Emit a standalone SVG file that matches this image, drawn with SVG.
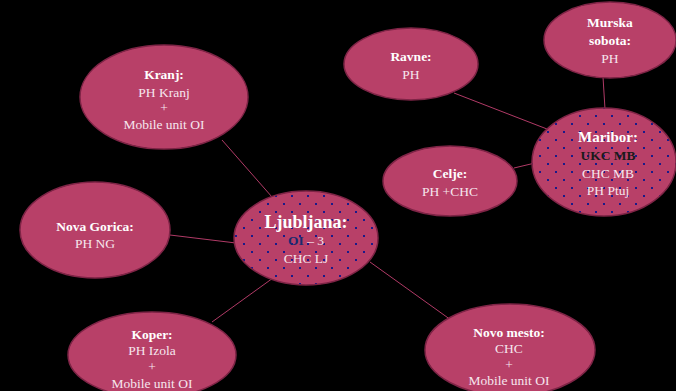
<svg xmlns="http://www.w3.org/2000/svg" width="676" height="391" viewBox="0 0 676 391">
<defs>
<pattern id="dots" x="0" y="0" width="16" height="16" patternUnits="userSpaceOnUse">
<rect width="16" height="16" fill="#b84068"/>
<rect x="3" y="3" width="2" height="2" fill="#1a1a8a"/>
<rect x="11" y="11" width="2" height="2" fill="#1a1a8a"/>
</pattern>
<style>
.n{fill:#b84068;stroke:#7e2446;stroke-width:1.5}
.d{fill:url(#dots);stroke:#7e2446;stroke-width:1.5}
.c line{stroke:#b03a66;stroke-width:1}
text{font-family:"Liberation Serif","DejaVu Serif",serif;font-size:13.5px;fill:#f6e6ee;text-anchor:middle}
.b{font-weight:bold;fill:#ffffff}
.k{font-weight:bold;fill:#1a1a1a}
</style>
</defs>
<rect width="676" height="391" fill="#000000"/>
<g class="c" id="connectors">
<line x1="222" y1="140" x2="272" y2="197"/>
<line x1="170" y1="235" x2="236" y2="243"/>
<line x1="212" y1="322" x2="273" y2="278"/>
<line x1="451" y1="320" x2="370" y2="262"/>
<line x1="454" y1="93" x2="547" y2="129"/>
<line x1="603" y1="77" x2="605" y2="109"/>
<line x1="514" y1="168" x2="535" y2="163"/>
</g>
<g id="kranj">
<ellipse class="n" cx="164" cy="97" rx="84" ry="52"/>
<text x="164" y="79" class="b">Kranj:</text>
<text x="164" y="97">PH Kranj</text>
<text x="164" y="112" font-size="11">+</text>
<text x="164" y="129">Mobile unit OI</text>
</g>
<g id="novagorica">
<ellipse class="n" cx="95" cy="230" rx="75" ry="48"/>
<text x="95" y="231" class="b">Nova Gorica:</text>
<text x="95" y="248">PH NG</text>
</g>
<g id="ljubljana">
<ellipse class="d" cx="306" cy="238" rx="72" ry="47"/>
<text x="306" y="228" class="b" style="font-size:18px">Ljubljana:</text>
<text x="306" y="245"><tspan font-weight="bold" fill="#1a2a6e">OI</tspan> – 3</text>
<text x="306" y="263">CHC LJ</text>
</g>
<g id="koper">
<ellipse class="n" cx="152" cy="355" rx="84" ry="43"/>
<text x="152" y="339" class="b">Koper:</text>
<text x="152" y="355">PH Izola</text>
<text x="152" y="371" font-size="11">+</text>
<text x="152" y="388">Mobile unit OI</text>
</g>
<g id="novomesto">
<ellipse class="n" cx="510" cy="350" rx="85" ry="46"/>
<text x="509" y="337" class="b">Novo mesto:</text>
<text x="509" y="353">CHC</text>
<text x="509" y="369" font-size="11">+</text>
<text x="509" y="385">Mobile unit OI</text>
</g>
<g id="celje">
<ellipse class="n" cx="450" cy="181" rx="67" ry="35"/>
<text x="450" y="178" class="b">Celje:</text>
<text x="450" y="196">PH +CHC</text>
</g>
<g id="ravne">
<ellipse class="n" cx="411" cy="64" rx="67" ry="36"/>
<text x="411" y="61" class="b">Ravne:</text>
<text x="411" y="79">PH</text>
</g>
<g id="murskasobota">
<ellipse class="n" cx="610" cy="40" rx="66" ry="38"/>
<text x="610" y="27" class="b">Murska</text>
<text x="610" y="45" class="b">sobota:</text>
<text x="610" y="63">PH</text>
</g>
<g id="maribor">
<ellipse class="d" cx="604" cy="162" rx="72" ry="54"/>
<text x="608" y="142" class="b" style="font-size:15px">Maribor:</text>
<text x="608" y="160" class="k">UKC MB</text>
<text x="608" y="178">CHC MB</text>
<text x="608" y="195">PH Ptuj</text>
</g>
</svg>
